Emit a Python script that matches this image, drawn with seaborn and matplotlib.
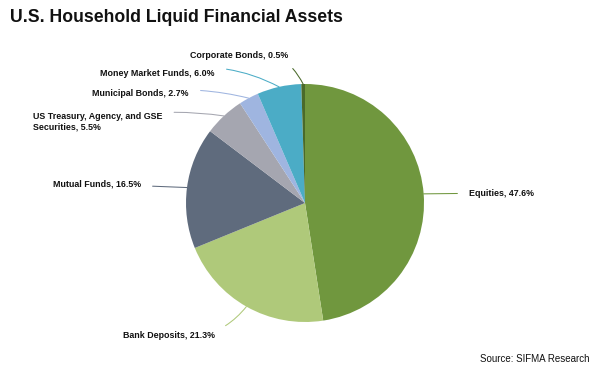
import numpy as np
import seaborn as sns
import matplotlib.pyplot as plt

sns.set_theme(style="white")
plt.rcParams['font.family'] = ['Liberation Sans', 'DejaVu Sans']

# slices, clockwise from 12 o'clock
categories = ['Equities', 'Bank Deposits', 'Mutual Funds',
              'US Treasury, Agency, and GSE\nSecurities', 'Municipal Bonds',
              'Money Market Funds', 'Corporate Bonds']
shares = [47.6, 21.3, 16.5, 5.5, 2.7, 6.0, 0.5]
colors = ['#70973e', '#afc97a', '#5f6b7d', '#a5a6b0', '#9fb5e0', '#4bacc6', '#4a6a2a']

# label placement in pixels (x, y from top), alignment and leader curvature
label_pos = [(469, 193), (215, 335), (141, 184), (33, 122), (189, 93), (215, 74), (288, 55)]
label_ha = ['left', 'right', 'right', 'left', 'right', 'right', 'right']
label_rad = [0.0, 0.3, 0.0, -0.1, -0.1, -0.2, -0.4]

W, H = 600, 369
fig = plt.figure(figsize=(W / 100, H / 100), dpi=100)
ax = fig.add_axes([0, 0, 1, 1])

cx, cy, r = 305, H - 203, 119
wedges, _ = ax.pie(shares, colors=colors, startangle=90, counterclock=False,
                   center=(cx, cy), radius=r, frame=True,
                   wedgeprops=dict(linewidth=0))
ax.set_xlim(0, W)
ax.set_ylim(0, H)
ax.set_aspect('equal')
ax.axis('off')

for w, cat, val, (lx, ly), ha, rad, col in zip(wedges, categories, shares, label_pos,
                                               label_ha, label_rad, colors):
    mid = np.deg2rad((w.theta1 + w.theta2) / 2)
    tip = (cx + r * np.cos(mid), cy + r * np.sin(mid))
    ax.annotate(f'{cat}, {val:.1f}%', xy=tip, xytext=(lx, H - ly),
                ha=ha, va='center', fontsize=6.4, fontweight='bold', color='#111111',
                multialignment='left',
                arrowprops=dict(arrowstyle='-', color=col, lw=0.75, shrinkA=6, shrinkB=0,
                                connectionstyle=f'arc3,rad={rad}'))

fig.text(10 / W, 1 - 17 / H, 'U.S. Household Liquid Financial Assets',
         fontsize=12.7, fontweight='bold', color='#111111', ha='left', va='center')
fig.text(590 / W, 1 - 359 / H, 'Source: SIFMA Research',
         fontsize=7, color='#111111', ha='right', va='center')

fig.savefig('out.png', dpi=100, facecolor='white')
